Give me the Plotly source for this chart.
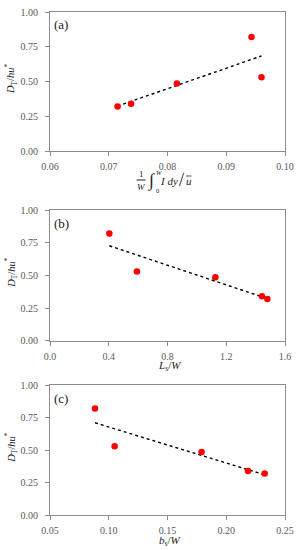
import numpy as np
import plotly.graph_objects as go

# ---- data ----
dt_hu = [0.82, 0.53, 0.485, 0.34, 0.32]
x_a = [0.0943, 0.0960, 0.0816, 0.0738, 0.0715]   # (1/W)∫ I dy / ū
x_b = [0.404, 0.592, 1.126, 1.443, 1.480]        # L_s / W
x_c = [0.0883, 0.105, 0.179, 0.2185, 0.2327]     # b_s / W

y_ticks = [0, 0.25, 0.5, 0.75, 1.0]
y_ticklabels = ["0.00", "0.25", "0.50", "0.75", "1.00"]
xa_ticks = [0.06, 0.07, 0.08, 0.09, 0.10]
xa_labels = ["0.06", "0.07", "0.08", "0.09", "0.10"]
xb_ticks = [0.0, 0.4, 0.8, 1.2, 1.6]
xb_labels = ["0.0", "0.4", "0.8", "1.2", "1.6"]
xc_ticks = [0.05, 0.10, 0.15, 0.20, 0.25]
xc_labels = ["0.05", "0.10", "0.15", "0.20", "0.25"]
panel_labels = ["(a)", "(b)", "(c)"]

W, H = 300, 550
FONT = "Liberation Serif"
AXC = "#8c8c8c"
TICKC = "#595959"
TC = "#222222"


def px(x):
    return x / W


def py(y):
    return 1 - y / H


fig = go.Figure()


def ann(x, y, t, s, angle=0, xanchor="center"):
    fig.add_annotation(x=px(x), y=py(y), xref="paper", yref="paper", text=t,
                       xanchor=xanchor, yanchor="middle", textangle=angle,
                       showarrow=False, font=dict(family=FONT, size=s, color=TC))


panels = [
    (x_a, xa_ticks, xa_labels, [0.06, 0.10], (12, 151)),
    (x_b, xb_ticks, xb_labels, [0.0, 1.6], (210, 340.7)),
    (x_c, xc_ticks, xc_labels, [0.05, 0.25], (385, 515.3)),
]

for i, (xs, ticks, labels, rng, (top, bot)) in enumerate(panels):
    n = "" if i == 0 else str(i + 1)
    xs_arr = np.array(xs)
    ys_arr = np.array(dt_hu)
    k, b = np.polyfit(xs_arr, ys_arr, 1)
    xl = np.array([xs_arr.min(), xs_arr.max()])
    fig.add_trace(go.Scatter(x=xl, y=k * xl + b, mode="lines",
                             line=dict(color="black", width=1.4, dash="dot"),
                             xaxis="x" + n, yaxis="y" + n, showlegend=False,
                             hoverinfo="skip"))
    fig.add_trace(go.Scatter(x=xs, y=dt_hu, mode="markers",
                             marker=dict(color="#ff0000", size=6.5),
                             xaxis="x" + n, yaxis="y" + n, showlegend=False))
    common = dict(showline=True, linecolor=AXC, linewidth=1, mirror=True,
                  showgrid=False, zeroline=False, ticks="outside", ticklen=4,
                  tickcolor=AXC, automargin=False,
                  tickfont=dict(family=FONT, size=10, color=TICKC))
    fig.update_layout(**{
        "xaxis" + n: dict(domain=[px(50), px(285)], range=rng, tickvals=ticks,
                          ticktext=labels, anchor="y" + n, ticklabelstandoff=2,
                          **common),
        "yaxis" + n: dict(domain=[py(bot), py(top)], range=[0, 1], tickvals=y_ticks,
                          ticktext=y_ticklabels, anchor="x" + n, ticklabelstandoff=5,
                          **common),
    })
    # y title
    ann(11.5, (top + bot) / 2 - 3, "<i>D</i><sub>T</sub>/<i>hu</i><sup>*</sup>", 10.5, angle=-90)
    # panel label
    ann(52, top + 13, panel_labels[i], 13, xanchor="left")

# x titles (b), (c)
ann(169, 365.5, "<i>L</i><sub>s</sub>/<i>W</i>", 11)
ann(170, 540.5, "<i>b</i><sub>s</sub>/<i>W</i>", 11)

# x title (a): (1/W) ∫_0^W I dy / ū
ann(141, 174, "1", 9)
ann(141, 186.5, "<i>W</i>", 9)
fig.add_shape(type="line", xref="paper", yref="paper", x0=px(136.5), x1=px(145.5),
              y0=py(180), y1=py(180), line=dict(color=TC, width=1))
ann(151, 180, "∫", 18)
ann(158.5, 172, "<i>W</i>", 6.5)
ann(157.5, 190, "0", 6.5)
ann(169.5, 181, "<i>I dy</i>", 11)
ann(181, 180, "/", 18)
ann(188.5, 181, "<i>u</i>", 11)
fig.add_shape(type="line", xref="paper", yref="paper", x0=px(186), x1=px(191.5),
              y0=py(176), y1=py(176), line=dict(color=TC, width=0.8))

fig.update_layout(width=W, height=H, margin=dict(l=0, r=0, t=0, b=0, autoexpand=False),
                  plot_bgcolor="white", paper_bgcolor="white",
                  font=dict(family=FONT))

fig.write_html("out.html", config={"displayModeBar": False},
               post_script="document.body.style.margin='0';document.body.style.padding='0';")
